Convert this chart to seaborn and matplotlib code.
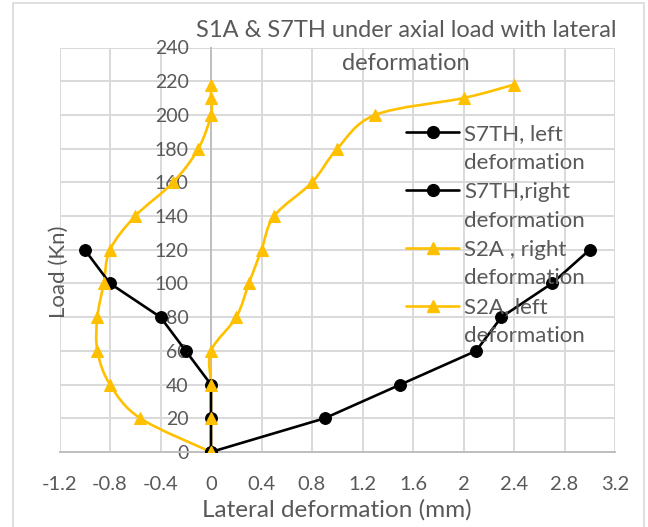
import numpy as np
import pandas as pd
import matplotlib
matplotlib.use("Agg")
import matplotlib.pyplot as plt
import seaborn as sns
from matplotlib.path import Path
from matplotlib.patches import PathPatch, Rectangle
from matplotlib.lines import Line2D

# Load steps (kN) and lateral deformation readings (mm)
s7th_load = [0, 20, 40, 60, 80, 100, 120]
s7th_left = [0, 0, 0, -0.2, -0.4, -0.8, -1.0]
s7th_right = [0, 0.9, 1.5, 2.1, 2.3, 2.7, 3.0]

s2a_load = [0, 20, 40, 60, 80, 100, 120, 140, 160, 180, 200, 210, 218]
s2a_right = [0, 0, 0, 0, 0.2, 0.3, 0.4, 0.5, 0.8, 1.0, 1.3, 2.0, 2.4]
s2a_left = [0, -0.56, -0.8, -0.9, -0.9, -0.85, -0.8, -0.6, -0.3, -0.1, 0, 0, 0]

x_ticks = [-1.2, -0.8, -0.4, 0, 0.4, 0.8, 1.2, 1.6, 2.0, 2.4, 2.8, 3.2]
x_labels = ["-1.2", "-0.8", "-0.4", "0", "0.4", "0.8", "1.2", "1.6", "2", "2.4", "2.8", "3.2"]
y_ticks = list(range(0, 241, 20))

labels = ["S7TH, left\ndeformation", "S7TH,right\ndeformation",
          "S2A , right\ndeformation", "S2A, left\ndeformation"]

BLACK = "#000000"
GOLD = "#FFC000"
TEXT = "#595959"
GRID = "#D9D9D9"
FONT = ["Lato", "DejaVu Sans"]

sns.set_theme(style="white")
plt.rcParams["font.family"] = FONT

W, H = 648, 527
fig = plt.figure(figsize=(W / 100, H / 100), dpi=100)

# chart border
fig.add_artist(Rectangle((13 / W, -0.05), (644 - 13) / W, 1.05 - 3 / H,
                         transform=fig.transFigure, fill=False,
                         edgecolor="#D9D9D9", linewidth=1.2))

left, right, top, bottom = 59.5, 615, 47.5, 452
ax = fig.add_axes([left / W, 1 - bottom / H, (right - left) / W, (bottom - top) / H])


def smooth_path(xs, ys):
    """Catmull-Rom style smoothed path through the points, as cubic Beziers."""
    pts = np.column_stack([xs, ys]).astype(float)
    n = len(pts)
    verts = [pts[0]]
    codes = [Path.MOVETO]
    for i in range(n - 1):
        p0 = pts[i - 1] if i > 0 else pts[i]
        p1 = pts[i]
        p2 = pts[i + 1]
        p3 = pts[i + 2] if i + 2 < n else pts[i + 1]
        c1 = p1 + (p2 - p0) / 6.0
        c2 = p2 - (p3 - p1) / 6.0
        verts += [c1, c2, p2]
        codes += [Path.CURVE4] * 3
    return Path(verts, codes)


lw = 1.9
ms = 8.5
# S7TH series: straight segments with circle markers
for xs in (s7th_left, s7th_right):
    df = pd.DataFrame({"x": xs, "y": s7th_load})
    sns.lineplot(data=df, x="x", y="y", sort=False, estimator=None, ax=ax,
                 color=BLACK, linewidth=lw, marker="o", markersize=ms,
                 markeredgecolor=BLACK, zorder=4)

# S2A series: smoothed lines with triangle markers
for xs in (s2a_right, s2a_left):
    ax.add_patch(PathPatch(smooth_path(xs, s2a_load), fill=False,
                           edgecolor=GOLD, linewidth=lw, zorder=3))
    df = pd.DataFrame({"x": xs, "y": s2a_load})
    sns.lineplot(data=df, x="x", y="y", sort=False, estimator=None, ax=ax,
                 color=GOLD, linestyle="none", marker="^", markersize=ms,
                 markeredgecolor=GOLD, zorder=5)

ax.set_xlim(-1.2, 3.2)
ax.set_ylim(0, 240)
ax.set_xticks(x_ticks)
ax.set_xticklabels(x_labels)
ax.set_yticks(y_ticks)
ax.set_xlabel("")
ax.set_ylabel("")

ax.grid(True, color=GRID, linewidth=1.4)
ax.set_axisbelow(True)
for side in ("top", "right"):
    ax.spines[side].set_visible(False)
ax.spines["left"].set_position(("data", 0))
ax.spines["left"].set_color("#BFBFBF")
ax.spines["left"].set_linewidth(1.4)
ax.spines["bottom"].set_color("#BFBFBF")
ax.spines["bottom"].set_linewidth(1.4)
ax.spines["left"].set_zorder(1)

ax.tick_params(axis="x", length=0, pad=17, labelsize=14.5, labelcolor=TEXT)
ax.tick_params(axis="y", length=0, pad=16, labelsize=14, labelcolor=TEXT)

# legend: each entry label spans two rows, marker beside the first row
handles = [
    Line2D([], [], color=BLACK, linewidth=lw, marker="o", markersize=ms),
    Line2D([], [], linestyle="none"),
    Line2D([], [], color=BLACK, linewidth=lw, marker="o", markersize=ms),
    Line2D([], [], linestyle="none"),
    Line2D([], [], color=GOLD, linewidth=lw, marker="^", markersize=ms),
    Line2D([], [], linestyle="none"),
    Line2D([], [], color=GOLD, linewidth=lw, marker="^", markersize=ms),
    Line2D([], [], linestyle="none"),
]
leg_labels = []
for lab in labels:
    leg_labels += lab.split("\n")
leg = ax.legend(handles, leg_labels, loc="upper left",
                bbox_to_anchor=(406 / W, 1 - 124 / H), bbox_transform=fig.transFigure,
                frameon=False, fontsize=16, handlelength=2.4, handletextpad=0.22,
                labelspacing=0.40, borderpad=0, borderaxespad=0)
for t in leg.get_texts():
    t.set_color(TEXT)

fig.text(406 / W, 1 - 47 / H,
         "S1A & S7TH under axial load with lateral\ndeformation",
         ha="center", va="center", fontsize=17, color=TEXT, linespacing=1.75)
fig.text(337 / W, 1 - 510 / H, "Lateral deformation (mm)",
         ha="center", va="center", fontsize=17.5, color=TEXT)
fig.text(59 / W, 1 - 272 / H, "Load (Kn)", rotation=90,
         ha="center", va="center", fontsize=16, color=TEXT)

fig.savefig("out.png", dpi=100)
